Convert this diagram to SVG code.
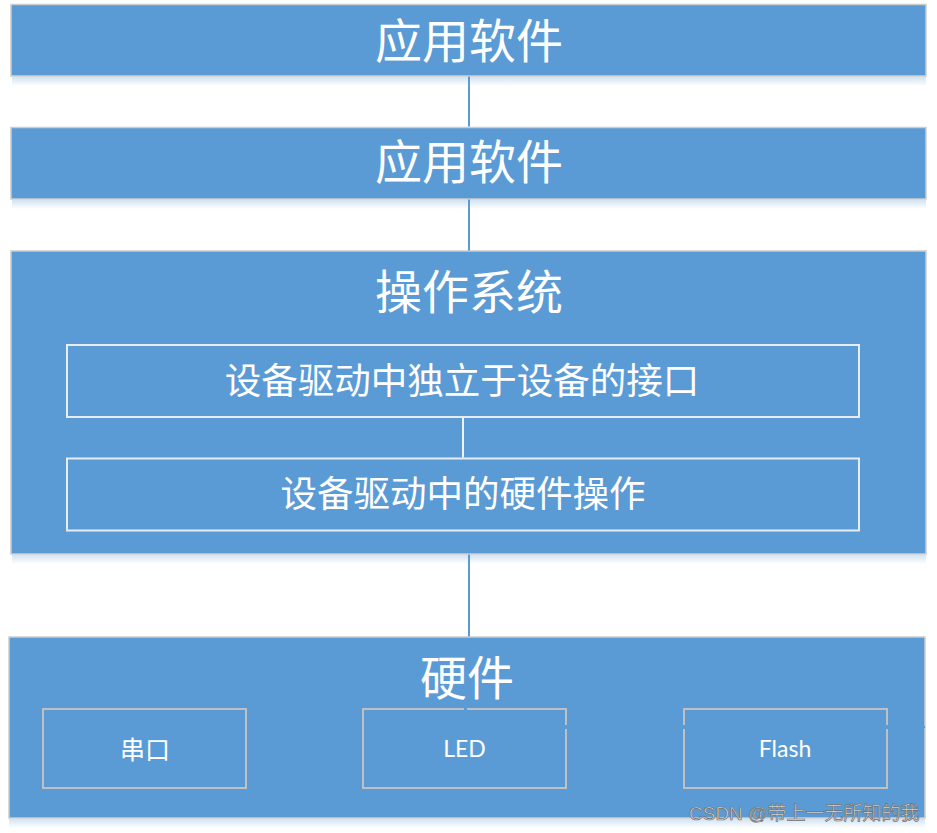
<svg xmlns="http://www.w3.org/2000/svg" width="937" height="833" viewBox="0 0 937 833">
<style>
.main{fill:#5b9bd5;stroke:#cccccc;stroke-width:1.5}
.inner{fill:none;stroke:#e6edf5;stroke-width:2}
.hw{fill:none;stroke:#c0c0c0;stroke-width:2}
.big{font-family:"Noto Sans CJK SC","Noto Sans",sans-serif;font-size:47px;fill:#ffffff;text-anchor:middle}
.mid{font-family:"Noto Sans CJK SC","Noto Sans",sans-serif;font-size:36.5px;fill:#ffffff;text-anchor:middle}
.small{font-family:"Noto Sans CJK SC",sans-serif;font-size:25px;fill:#ffffff;text-anchor:middle}
.lat{font-family:Lato,"Liberation Sans",sans-serif;font-size:23px;fill:#ffffff;text-anchor:middle}
.wm{font-family:"Liberation Sans","Noto Sans CJK SC",sans-serif;font-size:19px;fill:#dcdcdc;stroke:#6e6e6e;stroke-width:0.7}
.conn{stroke:#5b9bd5;stroke-width:2;fill:none}
.iconn{stroke:#f0f4f9;stroke-width:2;fill:none}
</style>
<defs>
<linearGradient id="sh" x1="0" y1="0" x2="0" y2="1">
<stop offset="0" stop-color="#5b9bd5" stop-opacity="0.28"/>
<stop offset="1" stop-color="#5b9bd5" stop-opacity="0"/>
</linearGradient>
</defs>
<rect width="937" height="833" fill="#ffffff"/>
<g id="shadows">
<rect x="12" y="77" width="914" height="9" fill="url(#sh)"/>
<rect x="12" y="200" width="914" height="9" fill="url(#sh)"/>
<rect x="12" y="555" width="914" height="9" fill="url(#sh)"/>
<rect x="9" y="819" width="916" height="9" fill="url(#sh)"/>
</g>
<g id="app1">
<rect class="main" x="11" y="4.5" width="915" height="71.5"/>
<text class="big" x="469" y="57.5">应用软件</text>
</g>
<g id="app2">
<rect class="main" x="11" y="127.5" width="915" height="71.5"/>
<text class="big" x="469" y="178.5">应用软件</text>
</g>
<g id="os">
<rect class="main" x="11" y="251" width="915" height="303"/>
<text class="big" x="469" y="308.5">操作系统</text>
</g>
<g id="iface">
<rect class="inner" x="67" y="345" width="792" height="72"/>
<text class="mid" x="462" y="394">设备驱动中独立于设备的接口</text>
</g>
<g id="hwops">
<rect class="inner" x="67" y="458.5" width="792" height="72"/>
<text class="mid" x="463" y="506.5">设备驱动中的硬件操作</text>
</g>
<g id="hardware">
<rect class="main" x="9" y="637" width="916" height="181"/>
<text class="big" x="467" y="694.5">硬件</text>
<line class="conn" x1="921" y1="727" x2="925" y2="727"/>
</g>
<g id="serial">
<rect class="hw" x="43" y="709" width="203" height="79"/>
<text class="small" x="145" y="758.5">串口</text>
</g>
<g id="led">
<path class="hw" d="M464,709 H363 V788 H566 V729 M566,725 V709 H467"/>
<text class="lat" x="464.5" y="757">LED</text>
</g>
<g id="flash">
<path class="hw" d="M684,725 V709 H887 V725 M887,729 V788 H684 V729"/>
<text class="lat" x="785" y="757">Flash</text>
</g>
<g id="connectors">
<line class="conn" x1="469" y1="76.5" x2="469" y2="126.5"/>
<line class="conn" x1="469" y1="199.5" x2="469" y2="250.5"/>
<line class="conn" x1="469" y1="554.5" x2="469" y2="636.5"/>
<line class="iconn" x1="463" y1="418" x2="463" y2="457.5"/>
</g>
<text class="wm" x="689" y="820">CSDN @带上一无所知的我</text>
</svg>
